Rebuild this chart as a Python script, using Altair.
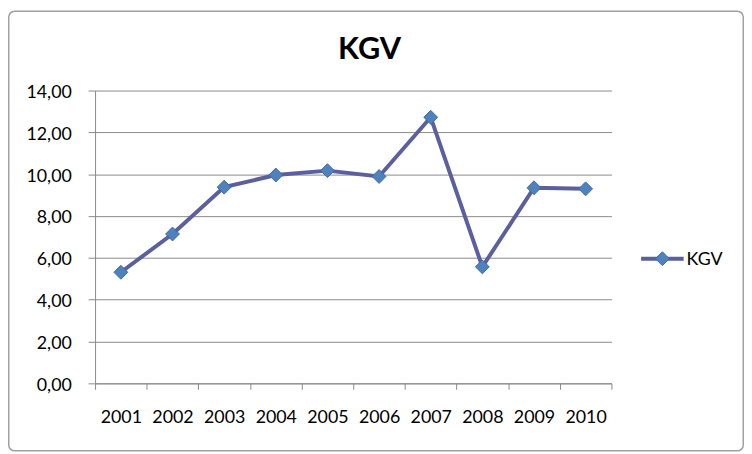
import altair as alt
import pandas as pd

years = ["2001", "2002", "2003", "2004", "2005", "2006", "2007", "2008", "2009", "2010"]
kgv = [5.31, 7.14, 9.38, 9.96, 10.17, 9.89, 12.72, 5.57, 9.35, 9.30]
y_ticks = [0, 2, 4, 6, 8, 10, 12, 14]
series_name = "KGV"
chart_title = "KGV"

df = pd.DataFrame({"year": years, "value": kgv})

FONT = "Lato"
LINE_COLOR = "#5B5F9E"
MARK_FILL = "#4F81BD"
MARK_STROKE = "#3E6A9E"
GRID = "#8A8A8A"

W, H = 522, 296
PL, PT = 88, 81

x_enc = alt.X(
    "year:O",
    bandPosition=0.5,
    scale=alt.Scale(type="band", paddingInner=0, paddingOuter=0),
    axis=alt.Axis(
        title=None, labelAngle=0, tickBand="extent", ticks=True, tickSize=6,
        tickColor=GRID, domainColor=GRID, labelFont=FONT, labelFontSize=18,
        labelColor="#000000", labelPadding=20, grid=False,
    ),
)
y_enc = alt.Y(
    "value:Q",
    scale=alt.Scale(domain=[0, 14], nice=False, zero=True),
    axis=alt.Axis(
        title=None, values=y_ticks, grid=True, gridColor=GRID, gridWidth=1,
        tickColor=GRID, tickSize=7, domainColor=GRID, labelFont=FONT,
        labelFontSize=18, labelColor="#000000", labelPadding=17, labelOffset=2,
        labelExpr="replace(format(datum.value, '.2f'), '.', ',')",
    ),
)

base = alt.Chart(df)
line = base.mark_line(color=LINE_COLOR, strokeWidth=4).encode(x=x_enc, y=y_enc)
pts = base.mark_point(
    shape="diamond", filled=True, size=196, fill=MARK_FILL, stroke=MARK_STROKE,
    strokeWidth=1, opacity=1,
).encode(x=x_enc, y=y_enc)

title_df = pd.DataFrame({"t": [chart_title]})
title = alt.Chart(title_df).mark_text(
    font=FONT, fontSize=31, fontWeight="bold", color="#000000",
    align="center", baseline="alphabetic", clip=False,
).encode(text="t:N", x=alt.value(373.5 - 96), y=alt.value(57 - 89))

leg_df = pd.DataFrame({"t": [series_name]})
leg_line = alt.Chart(leg_df).mark_rule(color=LINE_COLOR, strokeWidth=4, clip=False).encode(
    x=alt.value(648 - 96), x2=alt.value(691 - 96), y=alt.value(259 - 89)
)
leg_pt = alt.Chart(leg_df).mark_point(
    shape="diamond", filled=True, size=196, fill=MARK_FILL, stroke=MARK_STROKE,
    strokeWidth=1, opacity=1, clip=False,
).encode(x=alt.value(669.5 - 96), y=alt.value(259 - 89))
leg_txt = alt.Chart(leg_df).mark_text(
    font=FONT, fontSize=18, color="#000000", align="left", baseline="middle", clip=False,
).encode(text="t:N", x=alt.value(694 - 96), y=alt.value(260 - 89))

frame = alt.Chart(leg_df).mark_rect(
    fill=None, stroke="#A0A0A0", strokeWidth=1.5, cornerRadius=6, clip=False,
).encode(
    x=alt.value(-PL + 0.75), x2=alt.value(744 - PL - 0.75),
    y=alt.value(-PT + 0.75), y2=alt.value(446 - PT - 0.75),
)

chart = alt.layer(frame, line, pts, title, leg_line, leg_pt, leg_txt).properties(
    width=W, height=H,
    autosize=alt.AutoSizeParams(type="none"),
    padding={"left": PL, "top": PT, "right": 744 - PL - W, "bottom": 446 - PT - H},
    background="white",
).configure_view(stroke=None)

chart.save("out.html", embed_options={"renderer": "svg", "actions": False})
